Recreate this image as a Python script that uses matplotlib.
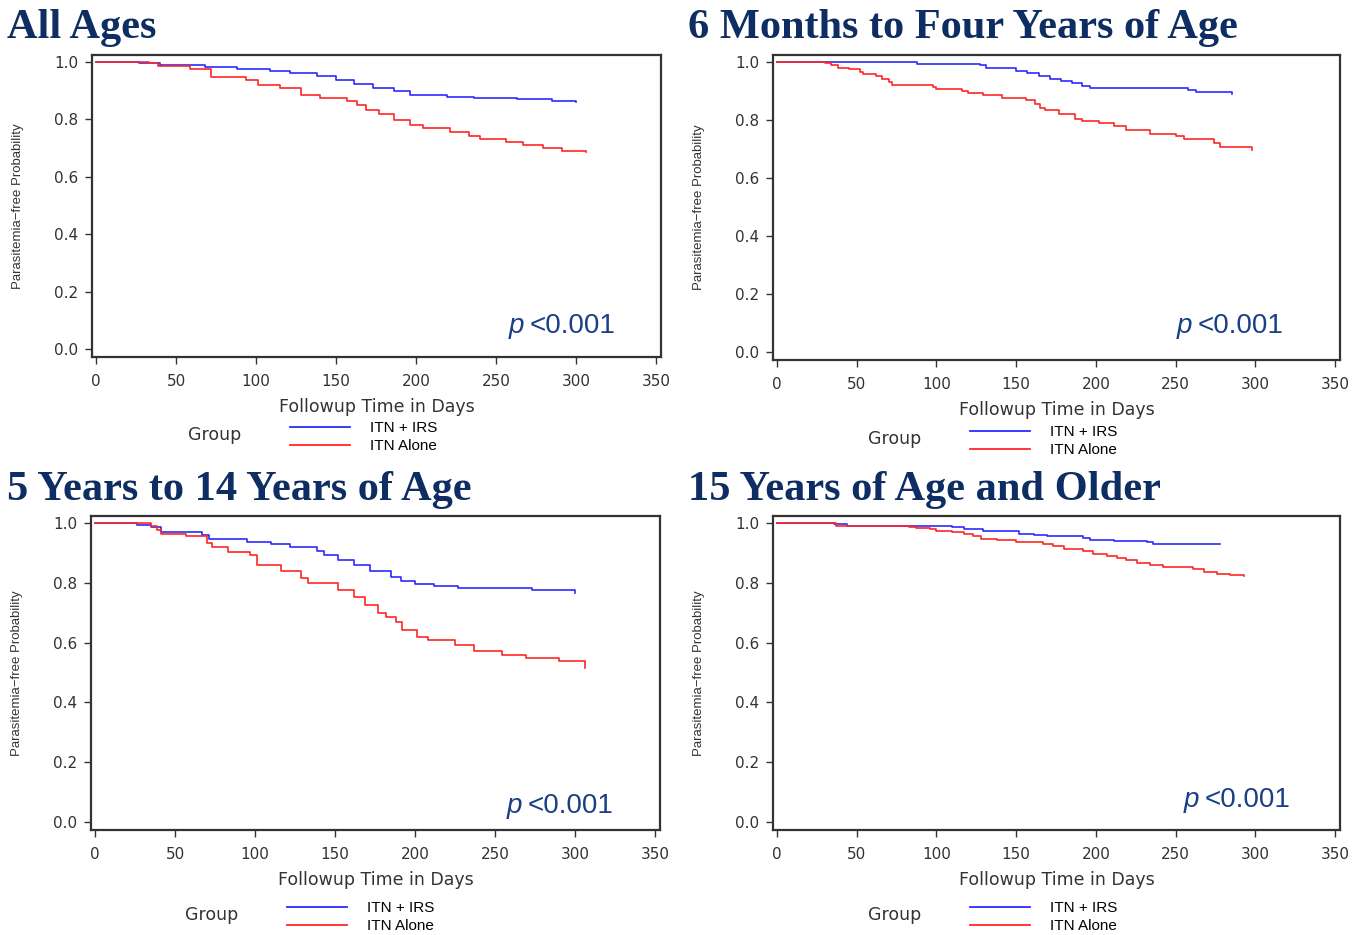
import matplotlib
matplotlib.use("Agg")
import matplotlib.pyplot as plt

# Kaplan-Meier style step data (days, survival after step)
all_irs_t = [0, 27, 40, 68, 88, 109, 121, 138, 150, 161, 173, 186, 196, 219, 236, 263, 285, 300]
all_irs_s = [1.0, 0.997, 0.990, 0.982, 0.976, 0.970, 0.963, 0.951, 0.937, 0.922, 0.908, 0.897,
             0.885, 0.879, 0.873, 0.870, 0.864, 0.860]
all_itn_t = [0, 33, 39, 59, 72, 94, 101, 115, 128, 140, 157, 163, 169, 177, 186, 196, 204, 221,
             233, 240, 256, 267, 279, 291, 306]
all_itn_s = [1.0, 0.997, 0.984, 0.976, 0.949, 0.937, 0.920, 0.908, 0.885, 0.873, 0.865, 0.850,
             0.833, 0.819, 0.798, 0.780, 0.769, 0.757, 0.742, 0.730, 0.722, 0.711, 0.699, 0.691, 0.685]

young_irs_t = [0, 88, 127, 131, 150, 157, 164, 171, 178, 185, 191, 196, 258, 263, 285]
young_irs_s = [1.0, 0.994, 0.988, 0.980, 0.970, 0.961, 0.952, 0.942, 0.935, 0.926, 0.918, 0.912,
               0.903, 0.895, 0.888]
young_itn_t = [0, 30, 34, 38, 45, 52, 54, 62, 66, 70, 72, 98, 100, 116, 120, 129, 141, 156, 162,
               165, 168, 177, 187, 191, 202, 211, 219, 234, 250, 255, 274, 278, 298]
young_itn_s = [1.0, 0.995, 0.990, 0.979, 0.976, 0.967, 0.958, 0.952, 0.940, 0.930, 0.922, 0.914,
               0.907, 0.899, 0.892, 0.886, 0.877, 0.869, 0.855, 0.843, 0.834, 0.820, 0.805, 0.796,
               0.788, 0.779, 0.767, 0.753, 0.744, 0.736, 0.721, 0.707, 0.698]

child_irs_t = [0, 26, 35, 41, 67, 71, 95, 110, 122, 139, 143, 152, 162, 172, 185, 191, 200, 212,
               227, 273, 300]
child_irs_s = [1.0, 0.995, 0.987, 0.972, 0.959, 0.948, 0.937, 0.929, 0.920, 0.906, 0.892, 0.876,
               0.859, 0.839, 0.820, 0.806, 0.798, 0.790, 0.783, 0.776, 0.766]
child_itn_t = [0, 35, 39, 41, 57, 70, 73, 83, 97, 101, 116, 129, 133, 152, 162, 169, 177, 182,
               188, 192, 201, 208, 225, 237, 254, 269, 290, 306]
child_itn_s = [1.0, 0.992, 0.976, 0.964, 0.957, 0.935, 0.921, 0.905, 0.892, 0.859, 0.839, 0.817,
               0.800, 0.776, 0.754, 0.726, 0.700, 0.687, 0.670, 0.642, 0.620, 0.609, 0.592, 0.572,
               0.559, 0.548, 0.537, 0.515]

adult_irs_t = [0, 36, 44, 110, 117, 129, 152, 161, 169, 192, 196, 211, 232, 236, 278]
adult_irs_s = [1.0, 0.996, 0.992, 0.987, 0.981, 0.973, 0.964, 0.961, 0.956, 0.950, 0.944, 0.940,
               0.936, 0.930, 0.930]
adult_itn_t = [0, 37, 83, 87, 96, 100, 110, 117, 123, 128, 138, 150, 167, 173, 180, 192, 198, 207,
               213, 219, 226, 234, 242, 261, 268, 276, 284, 293]
adult_itn_s = [1.0, 0.992, 0.987, 0.984, 0.979, 0.975, 0.970, 0.964, 0.957, 0.948, 0.942, 0.937,
               0.931, 0.922, 0.914, 0.906, 0.898, 0.890, 0.883, 0.876, 0.868, 0.861, 0.853, 0.846,
               0.837, 0.831, 0.826, 0.824]

titles = ["All Ages", "6 Months to Four Years of Age",
          "5 Years to 14 Years of Age", "15 Years of Age and Older"]
group_labels = ["ITN + IRS", "ITN Alone"]
p_text = "<0.001"
xticks = [0, 50, 100, 150, 200, 250, 300, 350]
yticks = [0.0, 0.2, 0.4, 0.6, 0.8, 1.0]

W, H = 1365, 935
fig = plt.figure(figsize=(W / 100, H / 100), dpi=100)
fig.patch.set_facecolor("white")

TITLE_C = "#0e2d63"
P_C = "#1b3f86"
GRAY = "#333333"
BLUE = "#2b2bff"
RED = "#ff2626"
ARIAL = ["Liberation Sans", "DejaVu Sans"]


def fx(x):
    return x / W


def fy(y):
    return 1 - y / H


def panel(box, data, title, title_xy, p_xy, leg_xy):
    l, t, r, b = box
    ax = fig.add_axes([fx(l), fy(b), (r - l) / W, (b - t) / H])
    irs_t, irs_s, itn_t, itn_s = data
    h1, = ax.step(irs_t, irs_s, where="post", color=BLUE, lw=1.2, label=group_labels[0])
    h2, = ax.step(itn_t, itn_s, where="post", color=RED, lw=1.2, label=group_labels[1])
    ax.set_xlim(-2.5, 353)
    ax.set_ylim(-0.027, 1.024)
    ax.set_xticks(xticks)
    ax.set_yticks(yticks)
    ax.set_xticklabels([str(v) for v in xticks])
    ax.set_yticklabels(["%.1f" % v for v in yticks])
    for s in ax.spines.values():
        s.set_color(GRAY)
        s.set_linewidth(1.6)
    ax.tick_params(direction="out", length=5, width=1, colors=GRAY, labelsize=11)
    ax.tick_params(axis="x", pad=7)
    ax.tick_params(axis="y", pad=5)

    cx = (l + r) / 2
    fig.text(fx(title_xy[0]), fy(title_xy[1]), title, family="Liberation Serif",
             weight="bold", size=30.5, color=TITLE_C, ha="left", va="baseline")
    fig.text(fx(l - 74), fy((t + b) / 2), "Parasitemia\u2212free Probability",
             family=ARIAL, size=9.5, color=GRAY, rotation=90, ha="center", va="center")
    fig.text(fx(cx), fy(b + 50), "Followup Time in Days", size=12.5, color=GRAY,
             ha="center", va="center")
    fig.text(fx(p_xy[0]), fy(p_xy[1]), "p", family=ARIAL, style="italic", size=20,
             color=P_C, ha="left", va="center")
    fig.text(fx(p_xy[0] + 21), fy(p_xy[1]), p_text, family=ARIAL, size=20,
             color=P_C, ha="left", va="center")
    fig.text(fx(leg_xy[0] - 102), fy(leg_xy[1] + 14), "Group", size=12.5, color=GRAY,
             ha="left", va="center")
    leg = ax.legend([h1, h2], group_labels, loc="upper left",
                    bbox_to_anchor=(fx(leg_xy[0]), fy(leg_xy[1])),
                    bbox_transform=fig.transFigure, frameon=False, borderpad=0,
                    borderaxespad=0, handlelength=3.9, handletextpad=1.35,
                    labelspacing=0.28, prop={"family": ARIAL, "size": 11})
    for ln in leg.get_lines():
        ln.set_linewidth(1.3)
    return ax


panel((92, 55, 661, 357), (all_irs_t, all_irs_s, all_itn_t, all_itn_s),
      titles[0], (7, 38), (509, 326), (290, 421))
panel((773, 55, 1340, 360), (young_irs_t, young_irs_s, young_itn_t, young_itn_s),
      titles[1], (688, 38), (1177, 326), (970, 425))
panel((91, 516, 660, 830), (child_irs_t, child_irs_s, child_itn_t, child_itn_s),
      titles[2], (7, 500), (507, 806), (287, 901))
panel((773, 516, 1340, 830), (adult_irs_t, adult_irs_s, adult_itn_t, adult_itn_s),
      titles[3], (688, 500), (1184, 800), (970, 901))

fig.savefig("out.png", dpi=100, facecolor="white")
